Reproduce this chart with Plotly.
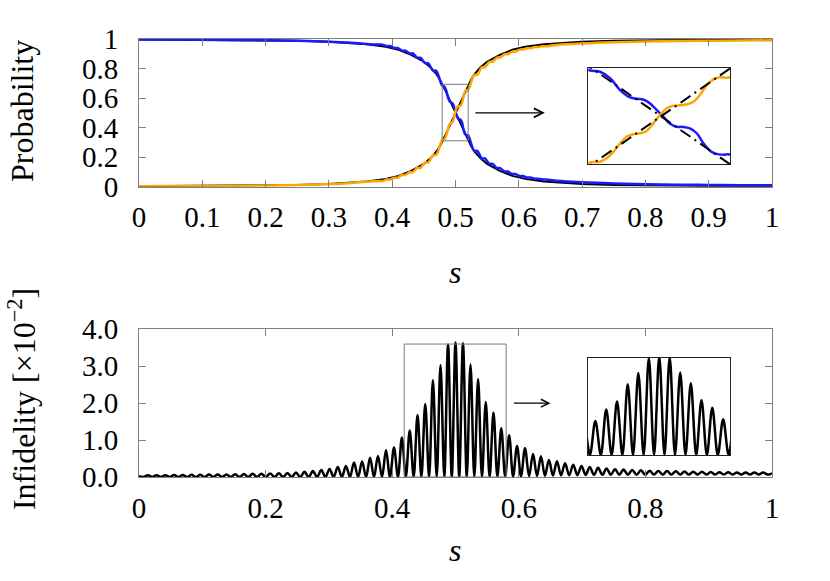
import plotly.graph_objects as go

# ---------------- Top panel data (probabilities) ----------------
s_adiabatic = [0.0, 0.05, 0.1, 0.15, 0.2, 0.25, 0.3, 0.33, 0.36, 0.39,
               0.41, 0.43, 0.45, 0.46, 0.47, 0.475, 0.48, 0.485, 0.49, 0.495,
               0.5, 0.505, 0.51, 0.515, 0.52, 0.525, 0.53, 0.54, 0.55, 0.57,
               0.59, 0.61, 0.64, 0.67, 0.7, 0.75, 0.8, 0.85, 0.9, 0.95, 1.0]
p_adiabatic_down = [0.997, 0.996, 0.995, 0.994, 0.992, 0.988, 0.982, 0.976, 0.965, 0.947,
                    0.927, 0.893, 0.846, 0.81, 0.762, 0.728, 0.69, 0.643, 0.595, 0.548,
                    0.5, 0.452, 0.405, 0.357, 0.31, 0.272, 0.238, 0.19, 0.154, 0.107,
                    0.073, 0.053, 0.035, 0.024, 0.018, 0.012, 0.008, 0.006, 0.005, 0.004, 0.003]
p_adiabatic_up = [0.003, 0.004, 0.005, 0.006, 0.008, 0.012, 0.018, 0.024, 0.035, 0.053,
                  0.073, 0.107, 0.154, 0.19, 0.238, 0.272, 0.31, 0.357, 0.405, 0.452,
                  0.5, 0.548, 0.595, 0.643, 0.69, 0.728, 0.762, 0.81, 0.846, 0.893,
                  0.927, 0.947, 0.965, 0.976, 0.982, 0.988, 0.992, 0.994, 0.995, 0.996, 0.997]

s_blue = [0.0, 0.05, 0.1, 0.15, 0.2, 0.25, 0.3, 0.33, 0.36,
          0.3795, 0.3845, 0.3915, 0.3965, 0.4035, 0.4085, 0.4155, 0.4205,
          0.4275, 0.4325, 0.4395, 0.4445, 0.452, 0.457, 0.4645, 0.4695,
          0.4790, 0.4824, 0.4853, 0.4882, 0.4911, 0.4930, 0.4949, 0.4968, 0.4988, 0.5007,
          0.5026, 0.5046, 0.5065, 0.5084, 0.5104, 0.5123, 0.5142, 0.5161, 0.5181, 0.5200,
          0.5295, 0.5345, 0.5415, 0.5465, 0.5535, 0.5585, 0.5655, 0.5705, 0.5775, 0.5825,
          0.5895, 0.5945, 0.6015, 0.6065, 0.6135, 0.6185, 0.6255, 0.6305, 0.6375, 0.6425,
          0.66, 0.7, 0.75, 0.8, 0.85, 0.9, 0.95, 1.0]
p_blue = [0.997, 0.996, 0.995, 0.994, 0.992, 0.988, 0.982, 0.976, 0.966,
          0.962, 0.962, 0.952, 0.952, 0.939, 0.939, 0.921, 0.921,
          0.902, 0.902, 0.873, 0.873, 0.836, 0.836, 0.785, 0.785,
          0.684, 0.677, 0.651, 0.604, 0.575, 0.570, 0.567, 0.552, 0.525, 0.499,
          0.472, 0.459, 0.458, 0.452, 0.433, 0.393, 0.364, 0.351, 0.348, 0.348,
          0.243, 0.243, 0.192, 0.192, 0.155, 0.155, 0.126, 0.126, 0.103, 0.103,
          0.086, 0.086, 0.072, 0.072, 0.062, 0.062, 0.054, 0.054, 0.049, 0.049,
          0.040, 0.030, 0.022, 0.017, 0.014, 0.012, 0.010, 0.009]

s_orange = [0.0, 0.05, 0.1, 0.15, 0.2, 0.25, 0.3, 0.33, 0.36,
            0.3795, 0.3845, 0.3915, 0.3965, 0.4035, 0.4085, 0.4155, 0.4205,
            0.4275, 0.4325, 0.4395, 0.4445, 0.452, 0.457, 0.4645, 0.4695,
            0.4790, 0.4824, 0.4843, 0.4863, 0.4882, 0.4901, 0.4920, 0.4940, 0.4959, 0.4978,
            0.4997, 0.5017, 0.5036, 0.5055, 0.5075, 0.5094, 0.5113, 0.5133, 0.5152, 0.5171, 0.5200,
            0.5295, 0.5345, 0.5415, 0.5465, 0.5535, 0.5585, 0.5655, 0.5705, 0.5775, 0.5825,
            0.5895, 0.5945, 0.6015, 0.6065, 0.6135, 0.6185, 0.6255, 0.6305, 0.6375, 0.6425,
            0.66, 0.7, 0.75, 0.8, 0.85, 0.9, 0.95, 1.0]
p_orange = [0.003, 0.004, 0.005, 0.006, 0.008, 0.012, 0.018, 0.024, 0.034,
            0.038, 0.038, 0.048, 0.048, 0.061, 0.061, 0.079, 0.079,
            0.098, 0.098, 0.127, 0.127, 0.164, 0.164, 0.215, 0.215,
            0.316, 0.320, 0.334, 0.360, 0.393, 0.419, 0.429, 0.433, 0.442, 0.472,
            0.505, 0.532, 0.542, 0.544, 0.548, 0.558, 0.585, 0.624, 0.647, 0.655, 0.655,
            0.757, 0.757, 0.808, 0.808, 0.845, 0.845, 0.874, 0.874, 0.897, 0.897,
            0.914, 0.914, 0.928, 0.928, 0.938, 0.938, 0.946, 0.946, 0.951, 0.951,
            0.960, 0.970, 0.978, 0.983, 0.986, 0.988, 0.990, 0.991]

# ---------------- Bottom panel data (infidelity, x1e-2) ----------------
peak_s_left = [0.0140, 0.0278, 0.0416, 0.0554, 0.0692, 0.0830, 0.0968, 0.1106, 0.1244, 0.1382,
               0.1520, 0.1658, 0.1796, 0.1934, 0.2072, 0.2209, 0.2345, 0.2480, 0.2614, 0.2747,
               0.2879, 0.3010, 0.3140, 0.3269, 0.3397, 0.3524, 0.3650, 0.3775, 0.3902, 0.4028,
               0.4153, 0.4277, 0.4400, 0.4522, 0.4643, 0.4763, 0.4882]
peak_v_left = [0.05, 0.05, 0.05, 0.055, 0.055, 0.06, 0.06, 0.065, 0.065, 0.07,
               0.075, 0.08, 0.085, 0.09, 0.095, 0.10, 0.11, 0.12, 0.14, 0.16,
               0.19, 0.22, 0.27, 0.30, 0.39, 0.42, 0.52, 0.57, 0.73, 0.80,
               1.07, 1.26, 1.68, 1.98, 2.62, 3.03, 3.59]
peak_s_right = [0.5000, 0.5118, 0.5237, 0.5357, 0.5478, 0.5600, 0.5723, 0.5847, 0.5972, 0.6098,
                0.6225, 0.6350, 0.6476, 0.6603, 0.6731, 0.6860, 0.6990, 0.7121, 0.7253, 0.7386,
                0.7520, 0.7655, 0.7791, 0.7928, 0.8066, 0.8204, 0.8342, 0.8480, 0.8618, 0.8756,
                0.8894, 0.9032, 0.9170, 0.9308, 0.9446, 0.9584, 0.9722, 0.9860]
peak_v_right = [3.64, 3.62, 3.05, 2.65, 2.03, 1.75, 1.32, 1.13, 0.84, 0.78,
                0.62, 0.56, 0.46, 0.43, 0.37, 0.33, 0.30, 0.27, 0.25, 0.23,
                0.21, 0.20, 0.19, 0.18, 0.17, 0.165, 0.16, 0.155, 0.15, 0.145,
                0.14, 0.135, 0.13, 0.13, 0.125, 0.125, 0.12, 0.12]
trough_s_left = [0.0071, 0.0209, 0.0347, 0.0485, 0.0623, 0.0761, 0.0899, 0.1037, 0.1175, 0.1313,
                 0.1451, 0.1589, 0.1727, 0.1865, 0.2003, 0.2141, 0.2277, 0.2413, 0.2547, 0.2681,
                 0.2813, 0.2945, 0.3075, 0.3205, 0.3333, 0.3461, 0.3587, 0.3713, 0.3839, 0.3965,
                 0.4091, 0.4215, 0.4339, 0.4461, 0.4583, 0.4703, 0.4823, 0.4941]
trough_v_left = [0.0, 0.0, 0.0, 0.0, 0.0, 0.0, 0.0, 0.0, 0.0, 0.0,
                 0.0, 0.0, 0.0, 0.0, 0.0, 0.0, 0.0, 0.0, 0.0, 0.0,
                 0.0, 0.0, 0.0, 0.0, 0.0, 0.0, 0.0, 0.0, 0.0, 0.0,
                 0.0, 0.0, 0.0, 0.0, 0.0, 0.0, 0.0, 0.0]
trough_s_right = [0.5059, 0.5178, 0.5297, 0.5418, 0.5539, 0.5662, 0.5785, 0.5910, 0.6035, 0.6162,
                  0.6288, 0.6413, 0.6540, 0.6667, 0.6796, 0.6925, 0.7056, 0.7187, 0.7320, 0.7453,
                  0.7588, 0.7723, 0.7860, 0.7997, 0.8135, 0.8273, 0.8411, 0.8549, 0.8687, 0.8825,
                  0.8963, 0.9101, 0.9239, 0.9377, 0.9515, 0.9653, 0.9791, 0.9929]
trough_v_right = [0.0, 0.0, 0.0, 0.0, 0.0, 0.005, 0.01, 0.015, 0.02, 0.025,
                  0.03, 0.035, 0.04, 0.045, 0.05, 0.05, 0.055, 0.055, 0.06, 0.06,
                  0.06, 0.06, 0.06, 0.06, 0.065, 0.065, 0.065, 0.065, 0.065, 0.065,
                  0.065, 0.065, 0.065, 0.065, 0.065, 0.065, 0.065, 0.065]
end_s = [0.0, 1.0]
end_v = [0.02, 0.10]

top_xticks = [0, 0.1, 0.2, 0.3, 0.4, 0.5, 0.6, 0.7, 0.8, 0.9, 1]
top_xlabels = ["0", "0.1", "0.2", "0.3", "0.4", "0.5", "0.6", "0.7", "0.8", "0.9", "1"]
top_yticks = [0, 0.2, 0.4, 0.6, 0.8, 1]
top_ylabels = ["0", "0.2", "0.4", "0.6", "0.8", "1"]
bot_xticks = [0, 0.2, 0.4, 0.6, 0.8, 1]
bot_xlabels = ["0", "0.2", "0.4", "0.6", "0.8", "1"]
bot_yticks = [0, 1, 2, 3, 4]
bot_ylabels = ["0.0", "1.0", "2.0", "3.0", "4.0"]

# combine infidelity points in order of s
pts = sorted(zip(peak_s_left + peak_s_right + trough_s_left + trough_s_right + end_s,
                 peak_v_left + peak_v_right + trough_v_left + trough_v_right + end_v))
inf_s = [p[0] for p in pts]
inf_v = [p[1] for p in pts]

BLUE = "#1a1aff"
ORANGE = "#ffa500"
FRAME = "#808080"

fig = go.Figure()

# main top
fig.add_trace(go.Scatter(x=s_adiabatic, y=p_adiabatic_down, mode="lines", line=dict(color="black", width=2), xaxis="x", yaxis="y"))
fig.add_trace(go.Scatter(x=s_adiabatic, y=p_adiabatic_up, mode="lines", line=dict(color="black", width=2), xaxis="x", yaxis="y"))
fig.add_trace(go.Scatter(x=s_blue, y=p_blue, mode="lines", line=dict(color=BLUE, width=2.5, shape="spline"), xaxis="x", yaxis="y"))
fig.add_trace(go.Scatter(x=s_orange, y=p_orange, mode="lines", line=dict(color=ORANGE, width=2.5, shape="spline"), xaxis="x", yaxis="y"))

# top inset
fig.add_trace(go.Scatter(x=s_blue, y=p_blue, mode="lines", line=dict(color=BLUE, width=2.5, shape="spline"), xaxis="x3", yaxis="y3"))
fig.add_trace(go.Scatter(x=s_orange, y=p_orange, mode="lines", line=dict(color=ORANGE, width=2.5, shape="spline"), xaxis="x3", yaxis="y3"))
fig.add_trace(go.Scatter(x=s_adiabatic, y=p_adiabatic_down, mode="lines", line=dict(color="black", width=2, dash="12px,5px,2px,5px"), xaxis="x3", yaxis="y3"))
fig.add_trace(go.Scatter(x=s_adiabatic, y=p_adiabatic_up, mode="lines", line=dict(color="black", width=2, dash="12px,5px,2px,5px"), xaxis="x3", yaxis="y3"))

# bottom main + inset
fig.add_trace(go.Scatter(x=inf_s, y=inf_v, mode="lines", line=dict(color="black", width=2.5, shape="spline"), xaxis="x2", yaxis="y2"))
fig.add_trace(go.Scatter(x=inf_s, y=inf_v, mode="lines", line=dict(color="black", width=2.5, shape="spline"), xaxis="x4", yaxis="y4"))

axis_common = dict(showgrid=False, zeroline=False, showline=True, linecolor=FRAME, linewidth=1,
                   mirror="ticks", ticks="inside", ticklen=7, tickcolor=FRAME, tickwidth=1,
                   tickfont=dict(family="Liberation Serif", size=29, color="black"))
inset_common = dict(showgrid=False, zeroline=False, showline=True, linecolor="#222222", linewidth=1,
                    mirror=True, ticks="", showticklabels=False)

fig.update_layout(
    width=830, height=581,
    margin=dict(l=139, r=58, t=39, b=104),
    paper_bgcolor="white", plot_bgcolor="white",
    showlegend=False,
    font=dict(family="Liberation Serif", size=29, color="black"),
    xaxis=dict(domain=[0, 1], anchor="y", range=[0, 1], tickvals=top_xticks, ticktext=top_xlabels,
               ticklabelstandoff=5, **axis_common),
    yaxis=dict(domain=[0.6628, 1], anchor="x", range=[0, 1], tickvals=top_yticks, ticktext=top_ylabels,
               ticklabelstandoff=14, **axis_common),
    xaxis2=dict(domain=[0, 1], anchor="y2", range=[0, 1], tickvals=bot_xticks, ticktext=bot_xlabels,
                ticklabelstandoff=5, **axis_common),
    yaxis2=dict(domain=[0, 0.3372], anchor="x2", range=[0, 4], tickvals=bot_yticks, ticktext=bot_ylabels,
                ticklabelstandoff=14, **axis_common),
    xaxis3=dict(domain=[0.7098, 0.9336], anchor="y3", range=[0.479, 0.520], **inset_common),
    yaxis3=dict(domain=[0.7146, 0.9345], anchor="x3", range=[0.311, 0.693], **inset_common),
    xaxis4=dict(domain=[0.7088, 0.9336], anchor="y4", range=[0.419, 0.580], **inset_common),
    yaxis4=dict(domain=[0.0502, 0.2724], anchor="x4", range=[0, 3.6], **inset_common),
)

# zoom rectangles
fig.add_shape(type="rect", xref="x", yref="y", x0=0.479, x1=0.520, y0=0.311, y1=0.693,
              line=dict(color="#7a7a7a", width=1))
fig.add_shape(type="rect", xref="x2", yref="y2", x0=0.419, x1=0.580, y0=0, y1=3.6,
              line=dict(color="#7a7a7a", width=1))

# arrows
fig.add_annotation(x=0.641, y=0.5, ax=0.529, ay=0.5, xref="x", yref="y", axref="x", ayref="y",
                   text="", showarrow=True, arrowhead=5, arrowsize=1.6, arrowwidth=1.1, arrowcolor="black")
fig.add_annotation(x=0.650, y=2.0, ax=0.590, ay=2.0, xref="x2", yref="y2", axref="x2", ayref="y2",
                   text="", showarrow=True, arrowhead=5, arrowsize=1.4, arrowwidth=1.1, arrowcolor="black")

# axis titles
title_font = dict(family="Liberation Serif", size=32, color="black")
fig.add_annotation(text="Probability", xref="paper", yref="paper", x=-0.1848, y=0.8356,
                   textangle=-90, showarrow=False, font=title_font, xanchor="center", yanchor="middle")
fig.add_annotation(text="Infidelity [×10<sup>−2</sup>]", xref="paper", yref="paper", x=-0.1848, y=0.178,
                   textangle=-90, showarrow=False, font=title_font, xanchor="center", yanchor="middle")
fig.add_annotation(text="<i>s</i>", xref="paper", yref="paper", x=0.4992, y=0.468,
                   showarrow=False, font=title_font, xanchor="center", yanchor="middle")
fig.add_annotation(text="<i>s</i>", xref="paper", yref="paper", x=0.4992, y=-0.1667,
                   showarrow=False, font=title_font, xanchor="center", yanchor="middle")

fig.write_html("out.html", config={"displayModeBar": False},
               post_script="document.body.style.margin='0';document.body.style.padding='0';")
